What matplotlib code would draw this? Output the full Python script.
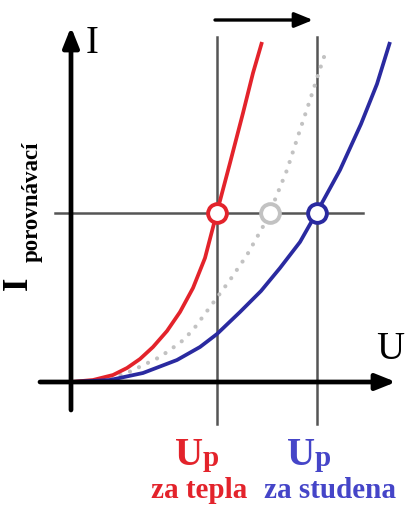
import matplotlib
matplotlib.use('Agg')
import matplotlib.pyplot as plt

# Curve points (U, I) - origin at the axes crossing
red_u = [0, 22, 42, 56, 69, 82, 96, 109, 122, 134, 146, 159, 172, 182, 191]
red_i = [0, 2, 7, 14, 23, 35, 51, 70, 94, 124, 170, 219, 269, 309, 340]
blue_u = [0, 39, 72, 106, 129, 146, 169, 190, 209, 229, 246, 269, 290, 306, 319]
blue_i = [0, 2, 9, 22, 35, 48, 70, 91, 114, 140, 170, 212, 258, 298, 340]
gray_u = [0, 20, 40, 56, 89, 110, 122, 142, 159, 176, 194, 199, 216, 229, 239, 248, 256]
gray_i = [0, 1, 4, 9, 25, 40, 52, 79, 102, 127, 159, 170, 212, 252, 282, 310, 334]

# comparison current and the two threshold voltages
i_comp = 169
u_warm = 146
u_cold = 246
u_mid = 199

red = '#e3232b'
blue = '#2a2aa0'
blue_txt = '#4545c8'
gray = '#c2c2c2'
line_gray = '#555555'

fig = plt.figure(figsize=(4.09, 5.07), dpi=100, facecolor='white')
ax = fig.add_axes([0, 0, 1, 1])
ax.set_xlim(-71, 338)
ax.set_ylim(-125, 382)
ax.axis('off')

# guide lines
ax.plot([u_warm, u_warm], [345, -42], color=line_gray, lw=1.8, zorder=1)
ax.plot([u_cold, u_cold], [345, -42], color=line_gray, lw=1.8, zorder=1)
ax.plot([-16, 292], [i_comp, i_comp], color=line_gray, lw=1.8, zorder=1)

# curves
ax.plot(gray_u, gray_i, color=gray, lw=3.0, linestyle=(0, (0.01, 2.4)),
        dash_capstyle='round', zorder=2)
ax.plot(red_u, red_i, color=red, lw=2.7, zorder=3, solid_capstyle='butt')
ax.plot(blue_u, blue_i, color=blue, lw=2.7, zorder=3, solid_capstyle='butt')

# intersection markers
for u, c in [(u_warm, red), (u_mid, gray), (u_cold, blue)]:
    ax.plot([u], [i_comp], marker='o', ms=13.5, mfc='white', mec=c, mew=2.8,
            zorder=5)

# axes with arrows
arr = dict(arrowstyle='-|>,head_length=1.2,head_width=0.48', lw=3.4,
           color='black', shrinkA=0, shrinkB=0)
ax.annotate('', xy=(0, 355), xytext=(0, -28), arrowprops=arr, zorder=4)
ax.annotate('', xy=(325, 0), xytext=(-31, 0), arrowprops=arr, zorder=4)
top = dict(arrowstyle='-|>,head_length=1.1,head_width=0.45', lw=2.4,
           color='black', shrinkA=0, shrinkB=0)
ax.annotate('', xy=(242, 362), xytext=(144, 362), arrowprops=top)

serif = 'Liberation Serif'
ax.text(15, 329, 'I', fontsize=28, family=serif, va='baseline', ha='left')
ax.text(305, 23, 'U', fontsize=28, family=serif, va='baseline', ha='left')

# rotated I_porovnavaci
ax.text(-36, 92, 'I', fontsize=25, family=serif, weight='bold',
        rotation=90, ha='right', va='bottom')
ax.text(-28, 120, 'porovnávací', fontsize=16.5, family=serif, weight='bold',
        rotation=90, ha='right', va='bottom')

# threshold labels
ax.text(104, -83, 'U', fontsize=28, family=serif, weight='bold', color=red,
        va='baseline', ha='left')
ax.text(132, -84, 'p', fontsize=21, family=serif, weight='bold', color=red,
        va='baseline', ha='left')
ax.text(128.5, -116, 'za tepla', fontsize=21, family=serif, weight='bold',
        color=red, va='baseline', ha='center')
ax.text(216, -83, 'U', fontsize=28, family=serif, weight='bold',
        color=blue_txt, va='baseline', ha='left')
ax.text(244, -84, 'p', fontsize=21, family=serif, weight='bold',
        color=blue_txt, va='baseline', ha='left')
ax.text(259, -116, 'za studena', fontsize=21, family=serif, weight='bold',
        color=blue_txt, va='baseline', ha='center')

fig.savefig('out.png', dpi=100, facecolor='white')
